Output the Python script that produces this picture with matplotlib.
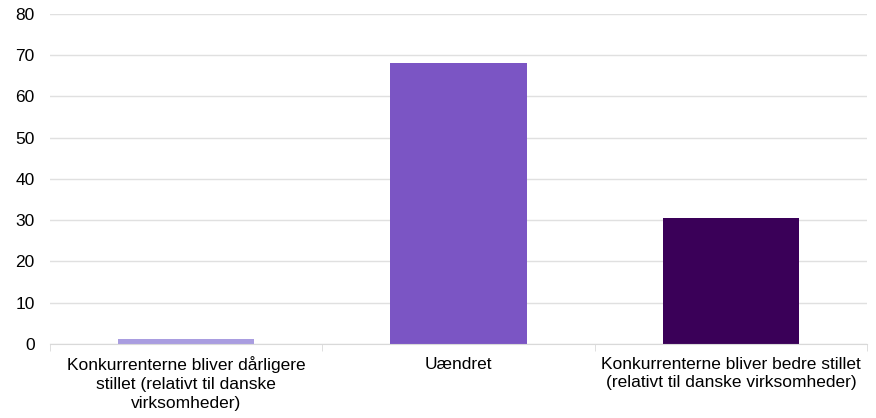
import matplotlib
matplotlib.use("Agg")
import matplotlib.pyplot as plt
import numpy as np

categories = [
    "Konkurrenterne bliver dårligere\nstillet (relativt til danske\nvirksomheder)",
    "Uændret",
    "Konkurrenterne bliver bedre stillet\n(relativt til danske virksomheder)",
]
values = [1.2, 68.1, 30.6]
colors = ["#a99de0", "#7b55c4", "#3a0058"]

plt.rcParams["font.family"] = ["Liberation Sans", "DejaVu Sans"]

fig = plt.figure(figsize=(8.76, 4.18), dpi=100)
ax = fig.add_axes([0.057, 0.177, 0.933, 0.79])

x = np.arange(len(categories))
ax.bar(x, values, width=0.5, color=colors, zorder=3)

ax.set_xlim(-0.5, len(categories) - 0.5)
ax.set_ylim(0, 80)
ax.set_yticks(range(0, 81, 10))
ax.yaxis.grid(True, color="#e0e0e0", linewidth=1, zorder=0)
ax.tick_params(axis="y", length=0, labelsize=12.5, pad=11)

# category labels centred, boundary ticks as minor ticks
ax.set_xticks(x)
ax.set_xticklabels(categories, fontsize=12.5, linespacing=1.32)
ax.tick_params(axis="x", which="major", length=0, pad=9)
ax.set_xticks(np.arange(-0.5, len(categories)), minor=True)
ax.tick_params(axis="x", which="minor", length=5, color="#d9d9d9")

for s in ["top", "right", "left"]:
    ax.spines[s].set_visible(False)
ax.spines["bottom"].set_color("#d9d9d9")
ax.spines["bottom"].set_zorder(4)

fig.savefig("out.png", dpi=100)
